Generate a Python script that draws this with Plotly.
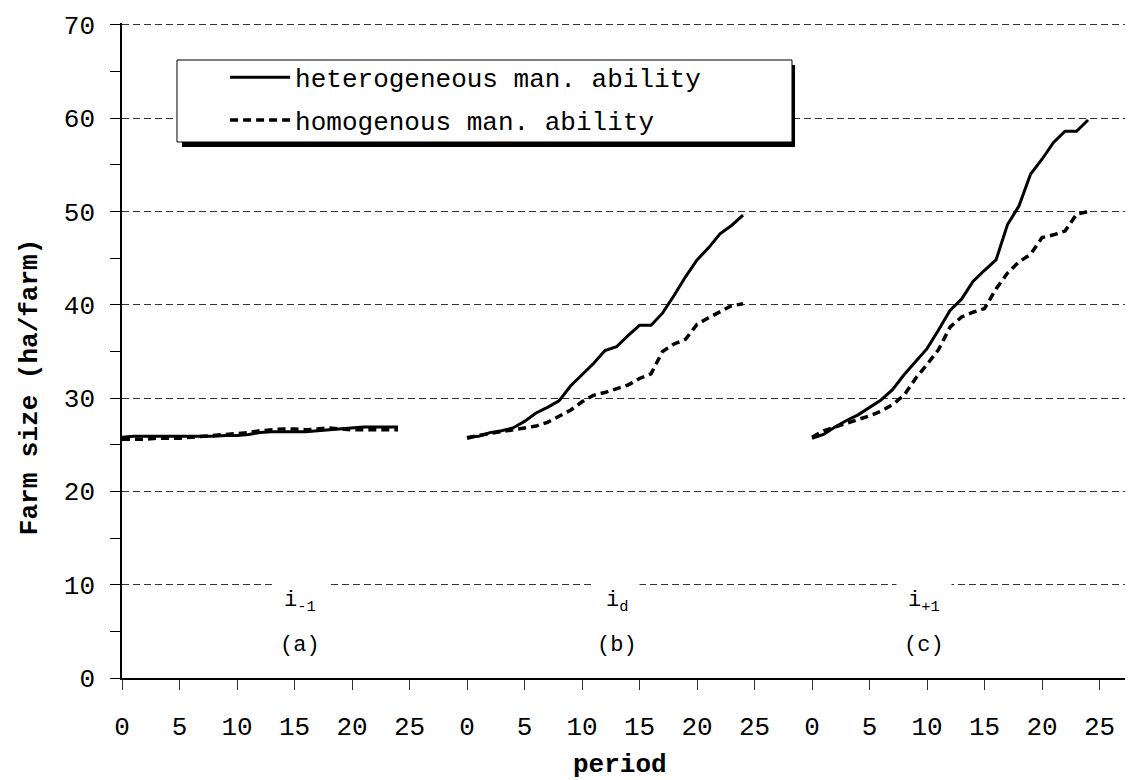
import plotly.graph_objects as go

# périodes simulées dans chaque scénario
periods = list(range(25))

# (a) i-1
het_a = [25.8, 25.9, 25.9, 25.9, 25.9, 25.9, 25.9, 25.9, 25.9, 26.0, 26.0, 26.1, 26.3,
         26.4, 26.4, 26.4, 26.4, 26.5, 26.6, 26.7, 26.8, 26.9, 26.9, 26.9, 26.9]
hom_a = [25.6, 25.6, 25.6, 25.7, 25.7, 25.7, 25.8, 25.9, 26.0, 26.1, 26.2, 26.3, 26.5,
         26.6, 26.7, 26.7, 26.6, 26.7, 26.8, 26.7, 26.6, 26.6, 26.6, 26.6, 26.6]

# (b) i_d
het_b = [25.8, 25.9, 26.3, 26.5, 26.8, 27.5, 28.4, 29.0, 29.7, 31.3, 32.5, 33.7, 35.1,
         35.5, 36.7, 37.8, 37.8, 39.1, 41.0, 43.0, 44.8, 46.1, 47.6, 48.5, 49.6]
hom_b = [25.7, 26.0, 26.2, 26.4, 26.6, 26.8, 27.0, 27.4, 28.0, 28.7, 29.6, 30.3, 30.6,
         31.0, 31.4, 32.1, 32.6, 35.0, 35.8, 36.3, 37.9, 38.6, 39.3, 39.9, 40.1]

# (c) i+1
het_c = [25.7, 26.1, 26.9, 27.6, 28.2, 29.0, 29.8, 30.9, 32.5, 33.9, 35.3, 37.3, 39.4,
         40.6, 42.5, 43.7, 44.8, 48.6, 50.6, 54.0, 55.6, 57.4, 58.6, 58.6, 59.8]
hom_c = [25.8, 26.5, 26.9, 27.3, 27.7, 28.1, 28.6, 29.3, 30.3, 32.1, 33.6, 35.2, 37.6,
         38.7, 39.2, 39.6, 41.7, 43.4, 44.6, 45.4, 47.2, 47.5, 47.9, 49.7, 50.0]

panel_tags = ["i<sub>-1</sub>", "i<sub>d</sub>", "i<sub>+1</sub>"]
panel_letters = ["(a)", "(b)", "(c)"]
tick_labels = ["0", "5", "10", "15", "20", "25"]

FONT = "Liberation Mono"
OFFSET = 30          # décalage horizontal entre les trois scénarios
LABEL_POS = [15.5, 13.0, 9.7]

fig = go.Figure()

series = [(het_a, hom_a), (het_b, hom_b), (het_c, hom_c)]
for k, (het, hom) in enumerate(series):
    x = [p + k * OFFSET for p in periods]
    fig.add_trace(go.Scatter(
        x           = x,
        y           = het,
        mode        = "lines",
        name        = "heterogeneous man. ability",
        legendgroup = "het",
        showlegend  = k == 0,
        line        = dict(color="black", width=3),
    ))
    fig.add_trace(go.Scatter(
        x           = x,
        y           = hom,
        mode        = "lines",
        name        = "homogenous man. ability",
        legendgroup = "hom",
        showlegend  = k == 0,
        line        = dict(color="black", width=3.5, dash="8px,5px"),
    ))

annotations = []
for k in range(3):
    xa = LABEL_POS[k] + k * OFFSET
    annotations.append(dict(
        x=xa, y=8.1, xref="x", yref="y", text=panel_tags[k], showarrow=False,
        font=dict(family=FONT, size=22, color="black"),
        bgcolor="white", borderpad=11,
    ))
    annotations.append(dict(
        x=xa, y=3.5, xref="x", yref="y", text=panel_letters[k], showarrow=False,
        font=dict(family=FONT, size=22, color="black"),
    ))

annotations.append(dict(
    x=-0.091, y=0.444, xref="paper", yref="paper", xanchor="center", yanchor="middle",
    text="<b>Farm size (ha/farm)</b>", textangle=-90, showarrow=False,
    font=dict(family=FONT, size=26, color="black"),
))
annotations.append(dict(
    x=0.4926, y=-0.133, xref="paper", yref="paper", xanchor="center", yanchor="middle",
    text="<b>period</b>", showarrow=False,
    font=dict(family=FONT, size=26, color="black"),
))

# cadre de légende avec ombre portée (coordonnées papier, zone de tracé de 655 px)
shapes = [
    dict(type="rect", xref="paper", yref="paper", x0=0.0593, x1=0.6657, y0=0.8107, y1=0.9359,
         fillcolor="black", line=dict(width=0), layer="above"),
    dict(type="rect", xref="paper", yref="paper", x0=0.0544, x1=0.6627, y0=0.8183, y1=0.9435,
         fillcolor="white", line=dict(color="black", width=1), layer="above"),
]

xticks = list(range(0, 90, 5))
# la page ajoute 8 px de marge autour du graphique
fig.update_layout(
    width         = 1125,
    height        = 772,
    margin        = dict(l=114, r=0, t=15, b=102),
    paper_bgcolor = "white",
    plot_bgcolor  = "white",
    font          = dict(family=FONT, size=25, color="black"),
    xaxis = dict(
        range=[0, 87.91], tickvals=xticks,
        ticktext=[tick_labels[i % 6] for i in range(len(xticks))],
        showline=True, linecolor="black", linewidth=2,
        ticks="outside", ticklen=10, tickcolor="#333", tickwidth=1,
        showgrid=False, zeroline=False, ticklabelstandoff=14,
        tickfont=dict(family=FONT, size=26), automargin=False,
    ),
    yaxis = dict(
        range=[0, 70.2], tickvals=[0, 10, 20, 30, 40, 50, 60, 70],
        showline=True, linecolor="black", linewidth=1.5,
        ticks="outside", ticklen=10, tickcolor="black", tickwidth=1,
        minor=dict(dtick=5, ticks="outside", ticklen=10, tickcolor="black", showgrid=False),
        showgrid=True, gridcolor="#333", gridwidth=1, griddash="7px,4px",
        zeroline=False, ticklabelstandoff=10,
        tickfont=dict(family=FONT, size=26), automargin=False,
    ),
    showlegend = True,
    legend = dict(
        x=0.102, y=0.953, xanchor="left", yanchor="top",
        bgcolor="rgba(0,0,0,0)", borderwidth=0,
        itemwidth=60, tracegroupgap=6, traceorder="grouped",
        font=dict(family=FONT, size=26, color="black"),
    ),
    shapes      = shapes,
    annotations = annotations,
)

fig.write_html("out.html")
